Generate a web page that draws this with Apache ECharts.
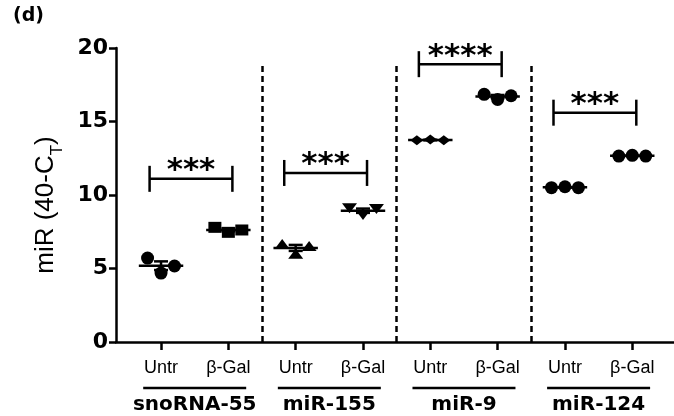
<!DOCTYPE html>
<html>
<head>
<meta charset="utf-8">
<script src="https://cdn.jsdelivr.net/npm/echarts@6/dist/echarts.min.js"></script>
<style>
  html, body { margin: 0; padding: 0; background: #fff; }
  #chart { width: 674px; height: 416px; }
</style>
</head>
<body>
<div id="chart"></div>
<script>
// data
const groups = ['snoRNA-55', 'miR-155', 'miR-9', 'miR-124'];
const conditions = ['Untr', 'β-Gal'];
const untrValues = [[5.71, 4.69, 5.17], [6.67, 6.0, 6.53], [13.72, 13.78, 13.72], [10.5, 10.56, 10.5]];
const galValues = [[7.80, 7.46, 7.62], [9.10, 8.64, 9.05], [16.85, 16.5, 16.75], [12.65, 12.7, 12.65]];
const bracketHeights = [11.1, 11.5, 18.9, 15.6];
const starLabels = ['***', '***', '****', '***'];
const yTicks = [0, 5, 10, 15, 20];
const separatorTop = 18.8;

// styling
const font = 'Liberation Sans, Arial, sans-serif';
const wideBold = 'DejaVu Sans, sans-serif';
const jitter = [-0.2, 0, 0.2];
const untrSymbols = [['circle', 13, 0], ['triangle', [15, 10], 0], ['diamond', [13, 10], 0], ['circle', 13, 0]];
const galSymbols = [['rect', [13, 11], 0], ['triangle', [15, 10], 180], ['circle', 13, 0], ['circle', 13, 0]];

const pos = (g, c) => g * 2 + c + 1;

const series = [];
const meanData = [];
groups.forEach((name, g) => {
  [untrValues[g], galValues[g]].forEach((vals, c) => {
    const sym = c === 0 ? untrSymbols[g] : galSymbols[g];
    series.push({
      type: 'scatter',
      name: name + ' ' + conditions[c],
      symbol: sym[0],
      symbolSize: sym[1],
      symbolRotate: sym[2],
      itemStyle: { color: '#000', opacity: 1 },
      data: vals.map((v, k) => [pos(g, c) + jitter[k], v])
    });
    const mean = vals.reduce((a, b) => a + b, 0) / vals.length;
    const sd = Math.sqrt(vals.reduce((a, b) => a + (b - mean) * (b - mean), 0) / (vals.length - 1));
    meanData.push([pos(g, c), mean, sd / Math.sqrt(vals.length)]);
  });
});

// mean line + SEM
series.push({
  type: 'custom',
  data: meanData,
  encode: { x: 0, y: 1 },
  renderItem: function (params, api) {
    const x = api.value(0), m = api.value(1), e = api.value(2);
    const a = api.coord([x - 0.33, m]), b = api.coord([x + 0.33, m]);
    const top = api.coord([x, m + e]), bot = api.coord([x, m - e]);
    const cw = 7;
    const st = { stroke: '#000', lineWidth: 2.5 };
    return {
      type: 'group',
      children: [
        { type: 'line', shape: { x1: a[0], y1: a[1], x2: b[0], y2: b[1] }, style: st },
        { type: 'line', shape: { x1: top[0], y1: top[1], x2: bot[0], y2: bot[1] }, style: st },
        { type: 'line', shape: { x1: top[0] - cw, y1: top[1], x2: top[0] + cw, y2: top[1] }, style: st },
        { type: 'line', shape: { x1: bot[0] - cw, y1: bot[1], x2: bot[0] + cw, y2: bot[1] }, style: st }
      ]
    };
  },
  z: 3
});

// significance brackets
series.push({
  type: 'custom',
  data: groups.map((n, g) => [pos(g, 0) - 0.17, pos(g, 1) + 0.06, bracketHeights[g]]),
  encode: { x: [0, 1], y: 2 },
  renderItem: function (params, api) {
    const l = api.coord([api.value(0), api.value(2)]);
    const r = api.coord([api.value(1), api.value(2)]);
    const h = 13;
    const st = { stroke: '#000', lineWidth: 2.5 };
    return {
      type: 'group',
      children: [
        { type: 'line', shape: { x1: l[0], y1: l[1], x2: r[0], y2: r[1] }, style: st },
        { type: 'line', shape: { x1: l[0], y1: l[1] - h, x2: l[0], y2: l[1] + h }, style: st },
        { type: 'line', shape: { x1: r[0], y1: r[1] - h, x2: r[0], y2: r[1] + h }, style: st },
        {
          type: 'text', x: (l[0] + r[0]) / 2, y: l[1] + 8,
          style: {
            text: starLabels[params.dataIndex], fill: '#000',
            font: 'bold 31px DejaVu Sans', align: 'center', verticalAlign: 'bottom'
          }
        }
      ]
    };
  }
});

// group underlines below the axis labels
series.push({
  type: 'custom',
  clip: false,
  data: groups.map((n, g) => [pos(g, 0) + 0.5 - 0.765, pos(g, 0) + 0.5 + 0.765]),
  encode: { x: [0, 1] },
  renderItem: function (params, api) {
    const a = api.coord([api.value(0), 0]);
    const b = api.coord([api.value(1), 0]);
    return {
      type: 'line',
      shape: { x1: a[0], y1: a[1] + 46, x2: b[0], y2: b[1] + 46 },
      style: { stroke: '#000', lineWidth: 2.5 }
    };
  }
});

// dashed separators between groups
series.push({
  type: 'scatter',
  data: [],
  markLine: {
    silent: true,
    symbol: ['none', 'none'],
    label: { show: false },
    lineStyle: { color: '#000', width: 2.5, type: [6, 4] },
    data: groups.slice(1).map((n, g) => [
      { coord: [pos(g + 1, 0) - 0.5, 0] },
      { coord: [pos(g + 1, 0) - 0.5, separatorTop] }
    ])
  }
});

const tickValues = [];
groups.forEach((n, g) => conditions.forEach((c, k) => tickValues.push(pos(g, k))));

const chart = echarts.init(document.getElementById('chart'));
chart.setOption({
  animation: false,
  title: {
    text: '(d)', left: 8, top: 2,
    textStyle: { fontFamily: wideBold, fontWeight: 'bold', fontSize: 19, color: '#000' }
  },
  grid: { left: 116, right: 0, top: 48, bottom: 74, containLabel: false },
  xAxis: [
    {
      type: 'value',
      min: 0.331,
      max: 8.62,
      splitLine: { show: false },
      axisLine: { lineStyle: { color: '#000', width: 2.5 } },
      axisTick: { customValues: tickValues, length: 8, lineStyle: { color: '#000', width: 2.5 } },
      axisLabel: {
        customValues: tickValues,
        formatter: v => conditions[(Math.round(v) - 1) % 2],
        fontFamily: font, fontSize: 18, color: '#000', margin: 17
      }
    },
    {
      type: 'value',
      position: 'bottom',
      min: 0.331,
      max: 8.62,
      splitLine: { show: false },
      axisLine: { show: false },
      axisTick: { show: false },
      axisLabel: {
        customValues: groups.map((n, g) => pos(g, 0) + 0.5),
        formatter: v => groups[Math.round((v - 1.5) / 2)],
        fontFamily: wideBold, fontSize: 20, fontWeight: 'bold', color: '#000', margin: 53
      }
    }
  ],
  yAxis: {
    type: 'value',
    min: yTicks[0],
    max: yTicks[yTicks.length - 1],
    interval: yTicks[1] - yTicks[0],
    splitLine: { show: false },
    axisLine: { show: true, lineStyle: { color: '#000', width: 2.5 } },
    axisTick: { show: true, length: 7, lineStyle: { color: '#000', width: 2.5 } },
    axisLabel: { fontFamily: wideBold, fontSize: 22, fontWeight: 'bold', color: '#000', margin: 8 },
    name: 'miR (40-C{sub|T})',
    nameLocation: 'middle',
    nameRotate: 90,
    nameGap: 50,
    nameTextStyle: {
      fontFamily: font, fontSize: 26, color: '#000',
      padding: [0, 20, 0, 0],
      rich: { sub: { fontFamily: font, fontSize: 17, lineHeight: 40, verticalAlign: 'bottom', color: '#000' } }
    }
  },
  series: series
});
</script>
</body>
</html>
